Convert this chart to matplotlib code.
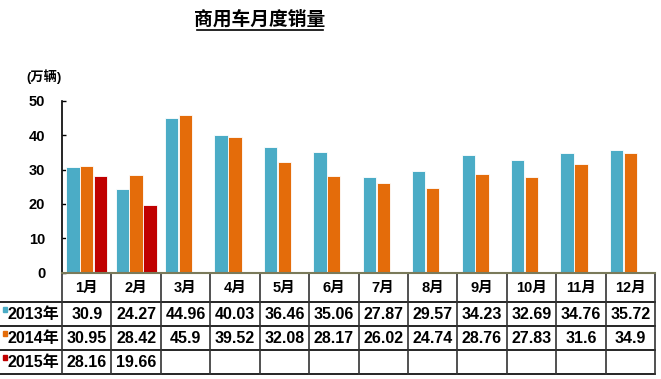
import matplotlib
matplotlib.use("Agg")
import matplotlib.pyplot as plt
from matplotlib.lines import Line2D

plt.rcParams['font.family'] = ['Liberation Sans', 'Noto Sans CJK SC', 'DejaVu Sans']

months = ["1月", "2月", "3月", "4月", "5月", "6月", "7月", "8月", "9月", "10月", "11月", "12月"]
series_names = ["2013年", "2014年", "2015年"]
sales_2013 = [30.9, 24.27, 44.96, 40.03, 36.46, 35.06, 27.87, 29.57, 34.23, 32.69, 34.76, 35.72]
sales_2014 = [30.95, 28.42, 45.9, 39.52, 32.08, 28.17, 26.02, 24.74, 28.76, 27.83, 31.6, 34.9]
sales_2015 = [28.16, 19.66]
yticks = [0, 10, 20, 30, 40, 50]
colors = ["#4BACC6", "#E46C0A", "#C00000"]

W, H = 661, 379
fig = plt.figure(figsize=(W / 100, H / 100), dpi=100)

# layout in pixels
x0, x1 = 62, 655
y_top, y_base = 101, 272.5
ax = fig.add_axes([x0 / W, 1 - y_base / H, (x1 - x0) / W, (y_base - y_top) / H])

series = [sales_2013, sales_2014, sales_2015]
offsets = [-0.28, 0.0, 0.28]
for vals, off, col in zip(series, offsets, colors):
    xs = [i + 0.5 + off for i in range(len(vals))]
    ax.bar(xs, vals, width=0.27, color=col, edgecolor="white", linewidth=0.6, zorder=2)

ax.set_xlim(0, 12)
ax.set_ylim(0, 50)
ax.set_yticks(yticks)
ax.set_yticklabels([str(t) for t in yticks], fontsize=10.5, fontweight="bold")
ax.tick_params(axis="y", direction="in", length=3, width=1, pad=12, colors="black")
ax.set_xticks([])
for s in ["top", "right"]:
    ax.spines[s].set_visible(False)
ax.spines["left"].set_linewidth(1.2)
ax.spines["bottom"].set_color("#7a7a5a")
ax.spines["bottom"].set_linewidth(1.5)

# overlay axes in pixel coordinates for title/table
tax = fig.add_axes([0, 0, 1, 1], zorder=-1)
tax.set_xlim(0, W)
tax.set_ylim(H, 0)
tax.axis("off")

t = tax.text(260, 19, "商用车月度销量", ha="center", va="center", fontsize=13.5,
             fontweight="bold")
tax.plot([197, 323], [30, 30], color="black", lw=1.2)
tax.text(44, 77, "(万辆)", ha="center", va="center", fontsize=9.5, fontweight="bold")

# table
cw = (x1 - x0) / 12
row_edges = [272.5, 302, 325.5, 349.5, 374]
for y in row_edges[1:]:
    tax.plot([0, x1], [y, y], color="black", lw=1.2)
for k in range(13):
    xv = x0 + k * cw
    tax.plot([xv, xv], [row_edges[0], row_edges[-1]], color="#333333", lw=1.2)

hy = (row_edges[0] + row_edges[1]) / 2
for i, m in enumerate(months):
    tax.text(x0 + (i + 0.5) * cw, hy + 1, m, ha="center", va="center", fontsize=10.5,
             fontweight="bold")

for r, (name, vals, col) in enumerate(zip(series_names, series, colors)):
    yc = (row_edges[r + 1] + row_edges[r + 2]) / 2
    tax.add_patch(plt.Rectangle((2.5, yc - 7), 4.5, 5, color=col))
    tax.text(8, yc + 1, name, ha="left", va="center", fontsize=11.5, fontweight="bold")
    for i, v in enumerate(vals):
        tax.text(x0 + (i + 0.5) * cw, yc + 1, f"{v:g}", ha="center", va="center",
                 fontsize=11.5, fontweight="bold")

fig.savefig("out.png", dpi=100, facecolor="white")
